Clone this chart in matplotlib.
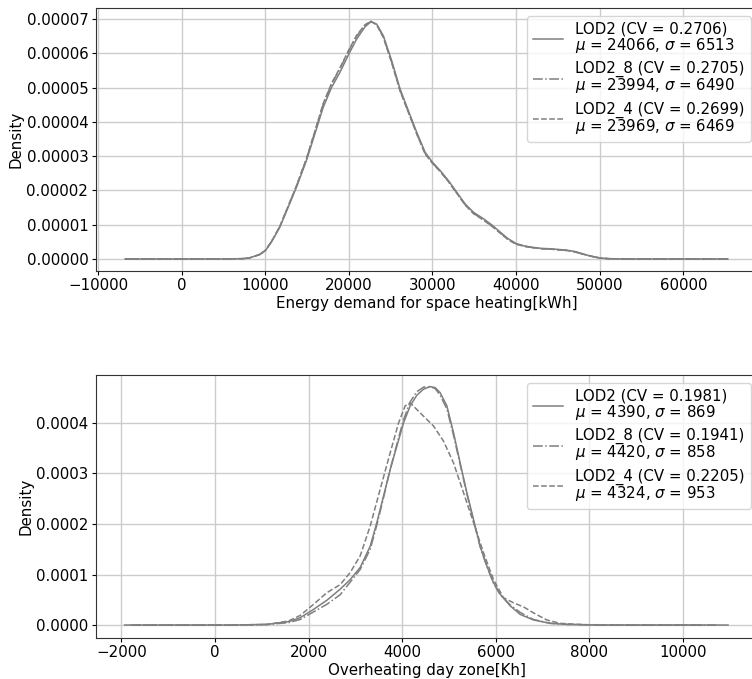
import matplotlib
matplotlib.use("Agg")
import matplotlib.pyplot as plt
from matplotlib.ticker import FormatStrFormatter

# ---------------- data ----------------
# Top panel: energy demand for space heating [kWh]; densities in units of 1e-5
top_x = [-6770, 0, 5000, 7300, 8100, 9320, 10000, 10720, 11720, 12720, 13720,
         14920, 15920, 16920, 17920, 18920, 20000, 20920, 21920, 22640, 23320,
         24120, 25120, 26120, 27120, 28120, 29120, 30000, 30920, 31920, 32920,
         33920, 34920, 36120, 37120, 38120, 39000, 40000, 41000, 42000, 43000,
         44000, 45000, 46000, 47000, 48000, 49000, 50000, 51000, 53000, 58000,
         65330]
top_lod2 = [0, 0, 0, 0.01, 0.03, 0.13, 0.24, 0.49, 0.92, 1.50, 2.09, 2.87, 3.64,
            4.42, 5.00, 5.44, 5.98, 6.41, 6.77, 6.92, 6.85, 6.51, 5.78, 4.96,
            4.32, 3.69, 3.11, 2.82, 2.58, 2.28, 1.94, 1.60, 1.36, 1.17, 0.99,
            0.78, 0.60, 0.45, 0.38, 0.34, 0.31, 0.30, 0.28, 0.26, 0.22, 0.15,
            0.08, 0.03, 0.01, 0, 0, 0]
top_lod2_8 = [0, 0, 0, 0.01, 0.03, 0.13, 0.25, 0.50, 0.94, 1.53, 2.12, 2.92,
              3.70, 4.50, 5.10, 5.55, 6.08, 6.50, 6.82, 6.93, 6.84, 6.48, 5.74,
              4.92, 4.29, 3.66, 3.08, 2.80, 2.56, 2.26, 1.92, 1.58, 1.33, 1.14,
              0.96, 0.76, 0.58, 0.44, 0.37, 0.33, 0.30, 0.29, 0.27, 0.25, 0.21,
              0.14, 0.08, 0.03, 0.01, 0, 0, 0]
top_lod2_4 = [0, 0, 0, 0.01, 0.03, 0.13, 0.25, 0.50, 0.94, 1.53, 2.13, 2.93,
              3.72, 4.53, 5.12, 5.57, 6.10, 6.52, 6.83, 6.93, 6.83, 6.46, 5.72,
              4.90, 4.27, 3.64, 3.06, 2.79, 2.55, 2.25, 1.91, 1.57, 1.32, 1.13,
              0.95, 0.75, 0.57, 0.43, 0.37, 0.33, 0.30, 0.29, 0.27, 0.25, 0.21,
              0.14, 0.08, 0.03, 0.01, 0, 0, 0]

# Bottom panel: overheating day zone [Kh]; densities in units of 1e-4
bot_x_lod2 = [-1930, 0, 400, 1110, 1573, 1822, 2107, 2391, 2676, 2890, 3103,
              3317, 3459, 3601, 3744, 3886, 4028, 4171, 4313, 4456, 4598, 4705,
              4811, 4954, 5096, 5238, 5381, 5523, 5665, 5808, 5950, 6093, 6306,
              6520, 6804, 7160, 7516, 8228, 9500, 10960]
bot_lod2 = [0, 0, 0, 0.013, 0.066, 0.145, 0.31, 0.49, 0.71, 0.90, 1.14, 1.56,
            2.03, 2.55, 3.08, 3.54, 4.00, 4.34, 4.55, 4.67, 4.72, 4.70, 4.60,
            4.34, 3.81, 3.21, 2.62, 2.09, 1.56, 1.17, 0.84, 0.61, 0.38, 0.21,
            0.10, 0.033, 0.013, 0, 0, 0]
bot_x_lod2_8 = [-1800, 0, 400, 1110, 1573, 1822, 2107, 2391, 2676, 2890, 3103,
                3317, 3459, 3601, 3744, 3886, 4028, 4171, 4313, 4456, 4598,
                4705, 4811, 4954, 5096, 5238, 5381, 5523, 5665, 5808, 5950,
                6093, 6306, 6520, 6804, 7160, 7516, 8228, 9500, 10700]
bot_lod2_8 = [0, 0, 0, 0.01, 0.047, 0.11, 0.26, 0.41, 0.60, 0.85, 1.10, 1.50,
              1.98, 2.52, 3.08, 3.58, 4.06, 4.42, 4.62, 4.71, 4.72, 4.68, 4.55,
              4.28, 3.76, 3.18, 2.60, 2.07, 1.55, 1.16, 0.83, 0.60, 0.40, 0.25,
              0.11, 0.035, 0.012, 0, 0, 0]
bot_x_lod2_4 = [-1700, 0, 400, 1110, 1573, 1822, 2107, 2391, 2676, 2890, 3103,
                3317, 3530, 3744, 3922, 4064, 4171, 4384, 4669, 4883, 5096,
                5310, 5523, 5737, 5950, 6164, 6377, 6590, 6804, 7089, 7374,
                7872, 9000, 10400]
bot_lod2_4 = [0, 0, 0, 0.01, 0.08, 0.19, 0.41, 0.64, 0.80, 1.04, 1.37, 1.96,
              2.69, 3.41, 4.00, 4.34, 4.40, 4.20, 3.94, 3.64, 3.21, 2.62, 2.03,
              1.43, 0.90, 0.54, 0.44, 0.36, 0.24, 0.10, 0.033, 0.007, 0, 0]

labels_top = ["LOD2 (CV = 0.2706)\n$\\mu$ = 24066, $\\sigma$ = 6513",
              "LOD2_8 (CV = 0.2705)\n$\\mu$ = 23994, $\\sigma$ = 6490",
              "LOD2_4 (CV = 0.2699)\n$\\mu$ = 23969, $\\sigma$ = 6469"]
labels_bot = ["LOD2 (CV = 0.1981)\n$\\mu$ = 4390, $\\sigma$ = 869",
              "LOD2_8 (CV = 0.1941)\n$\\mu$ = 4420, $\\sigma$ = 858",
              "LOD2_4 (CV = 0.2205)\n$\\mu$ = 4324, $\\sigma$ = 953"]

top_xticks = [-10000, 0, 10000, 20000, 30000, 40000, 50000, 60000]
top_yticks = [0, 1e-5, 2e-5, 3e-5, 4e-5, 5e-5, 6e-5, 7e-5]
bot_xticks = [-2000, 0, 2000, 4000, 6000, 8000, 10000]
bot_yticks = [0, 1e-4, 2e-4, 3e-4, 4e-4]

# ---------------- plotting ----------------
plt.rcParams['font.family'] = ['DejaVu Sans']
plt.rcParams['font.size'] = 10.8
plt.rcParams['mathtext.fontset'] = 'dejavusans'
plt.rcParams['xtick.major.size'] = 3.0
plt.rcParams['ytick.major.size'] = 3.0
plt.rcParams['xtick.major.pad'] = 2.2
plt.rcParams['ytick.major.pad'] = 2.5
plt.rcParams['axes.labelpad'] = 2.0

W, H = 752, 679
fig = plt.figure(figsize=(W / 100, H / 100), dpi=100)

def box(left, top, right, bottom):
    return [left / W, 1 - bottom / H, (right - left) / W, (bottom - top) / H]

ax1 = fig.add_axes(box(96, 8, 758, 271))
ax2 = fig.add_axes(box(96, 375, 758, 638))

styles = ['-', '-.', '--']
col = '#7f7f7f'

for ys, ls, lab in zip([top_lod2, top_lod2_8, top_lod2_4], styles, labels_top):
    ax1.plot(top_x, [v * 1e-5 for v in ys], color=col, linestyle=ls, lw=1.1, label=lab)

for xs, ys, ls, lab in zip([bot_x_lod2, bot_x_lod2_8, bot_x_lod2_4],
                           [bot_lod2, bot_lod2_8, bot_lod2_4], styles, labels_bot):
    ax2.plot(xs, [v * 1e-4 for v in ys], color=col, linestyle=ls, lw=1.1, label=lab)

ax1.set_xlim(-10250, 68935)
ax1.set_ylim(-3.5e-6, 7.32e-5)
ax1.set_xticks(top_xticks)
ax1.set_yticks(top_yticks)
ax1.yaxis.set_major_formatter(FormatStrFormatter('%.5f'))
ax1.set_xlabel("Energy demand for space heating[kWh]")
ax1.set_ylabel("Density")

ax2.set_xlim(-2540, 11600)
ax2.set_ylim(-2.57e-5, 4.95e-4)
ax2.set_xticks(bot_xticks)
ax2.set_yticks(bot_yticks)
ax2.yaxis.set_major_formatter(FormatStrFormatter('%.4f'))
ax2.set_xlabel("Overheating day zone[Kh]")
ax2.set_ylabel("Density")

for ax in (ax1, ax2):
    ax.grid(True, color='#cccccc', linewidth=1.0)
    ax.set_axisbelow(True)
    for s in ax.spines.values():
        s.set_color('#333333')
    leg = ax.legend(loc='upper right', labelspacing=0.4)
    for t in leg.get_texts():
        t.set_linespacing(0.95)

fig.savefig("out.png", dpi=100)
